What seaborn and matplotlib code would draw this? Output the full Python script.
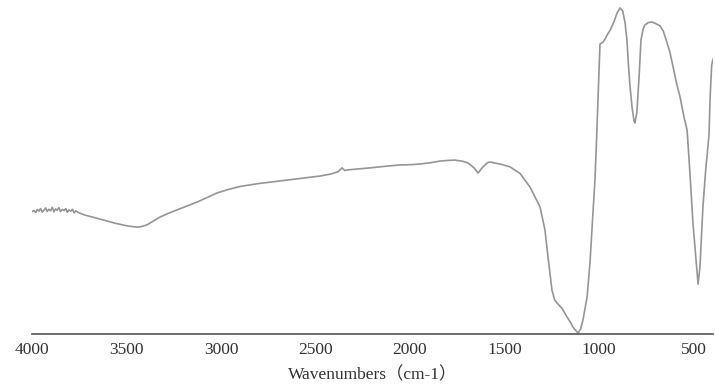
import matplotlib
matplotlib.use("Agg")
import matplotlib.pyplot as plt
import seaborn as sns
import pandas as pd

# FT-IR spectrum: wavenumber (cm-1) and transmittance (%T)
wavenumber = [4000, 3990, 3981, 3972, 3963, 3955, 3946, 3937, 3928, 3920,
              3911, 3902, 3893, 3884, 3876, 3867, 3858, 3849, 3840, 3831,
              3822, 3813, 3804, 3795, 3786, 3777, 3768, 3755, 3746, 3720,
              3680, 3624, 3560, 3497, 3470, 3444, 3420, 3392, 3360, 3323,
              3280, 3233, 3180, 3127, 3070, 3021, 2960, 2899, 2800, 2688,
              2580, 2476, 2420, 2381, 2360, 2345, 2328, 2270, 2212, 2130,
              2053, 1990, 1947, 1890, 1841, 1800, 1762, 1720, 1693, 1661,
              1640, 1619, 1590, 1577, 1550, 1510, 1471, 1418, 1365, 1312,
              1286, 1270, 1249, 1235, 1222, 1195, 1169, 1150, 1138, 1125,
              1111, 1098, 1085, 1063, 1048, 1032, 1021, 1011, 1003, 995,
              987, 979, 968, 955, 942, 920, 905, 889, 875, 862,
              852, 846, 836, 825, 815, 810, 800, 788, 778, 767,
              757, 740, 720, 700, 677, 660, 640, 625, 608, 590,
              571, 550, 534, 519, 503, 486, 476, 466, 450, 434,
              429, 418, 412, 404, 397]
transmittance = [37.6, 37.9, 37.3, 38.2, 37.7, 38.5, 37.4, 38.0, 38.7, 37.6,
                 38.3, 37.8, 38.9, 37.5, 38.4, 38.0, 38.8, 37.6, 38.2, 37.9,
                 38.5, 37.4, 38.1, 37.7, 38.3, 37.2, 37.8, 37.3, 37.1, 36.5,
                 35.9, 35.0, 34.0, 33.2, 33.0, 32.8, 33.0, 33.5, 34.6, 35.9,
                 37.0, 38.1, 39.3, 40.5, 42.0, 43.3, 44.4, 45.3, 46.2, 47.0,
                 47.8, 48.5, 49.1, 49.8, 51.0, 50.2, 50.4, 50.7, 51.0, 51.5,
                 51.9, 52.0, 52.2, 52.6, 53.1, 53.3, 53.4, 53.0, 52.5, 51.0,
                 49.4, 51.0, 52.6, 52.8, 52.5, 52.0, 51.3, 49.3, 45.1, 39.0,
                 31.9, 23.6, 13.5, 10.5, 9.5, 7.8, 5.2, 3.5, 2.1, 1.2,
                 0.3, 1.5, 4.3, 11.4, 21.8, 37.5, 47.9, 63.0, 76.0, 89.0,
                 89.3, 89.6, 90.6, 92.0, 93.2, 96.0, 98.5, 100.1, 99.2, 95.5,
                 90.0, 84.0, 76.0, 69.5, 65.5, 64.8, 68.0, 79.0, 90.3, 93.5,
                 94.9, 95.6, 95.8, 95.3, 94.6, 93.0, 89.4, 86.5, 82.0, 77.0,
                 72.7, 66.5, 62.6, 49.4, 34.0, 22.0, 15.3, 20.6, 39.3, 51.6,
                 54.3, 61.3, 73.0, 82.5, 84.4]

tick_values = [4000, 3500, 3000, 2500, 2000, 1500, 1000, 500]
x_label = "Wavenumbers（cm-1）"

df = pd.DataFrame({"wavenumber": wavenumber, "transmittance": transmittance})

sns.set_style("white")
plt.rcParams["font.family"] = ["Liberation Serif", "Noto Sans CJK SC", "DejaVu Serif"]

fig = plt.figure(figsize=(7.15, 3.9), dpi=100)
ax = fig.add_axes([0.0448, 0.1436, 0.9524, 0.851])

sns.lineplot(data=df, x="wavenumber", y="transmittance", ax=ax,
             color="#959595", linewidth=1.2, sort=False)

ax.set_xlim(4000, 397)
ax.set_ylim(0, 101.9)
ax.set_xticks(tick_values)
ax.set_xticklabels([str(v) for v in tick_values], fontsize=12.5, color="#333333")
ax.set_yticks([])
ax.set_ylabel("")
ax.set_xlabel(x_label, fontsize=12.5, color="#333333", labelpad=6)

for side in ("left", "right", "top"):
    ax.spines[side].set_visible(False)
ax.spines["bottom"].set_color("#555555")
ax.spines["bottom"].set_linewidth(1.2)
ax.tick_params(axis="x", direction="inout", length=4, width=1, color="#666666", pad=4)

fig.savefig("out.png", dpi=100, facecolor="white")
